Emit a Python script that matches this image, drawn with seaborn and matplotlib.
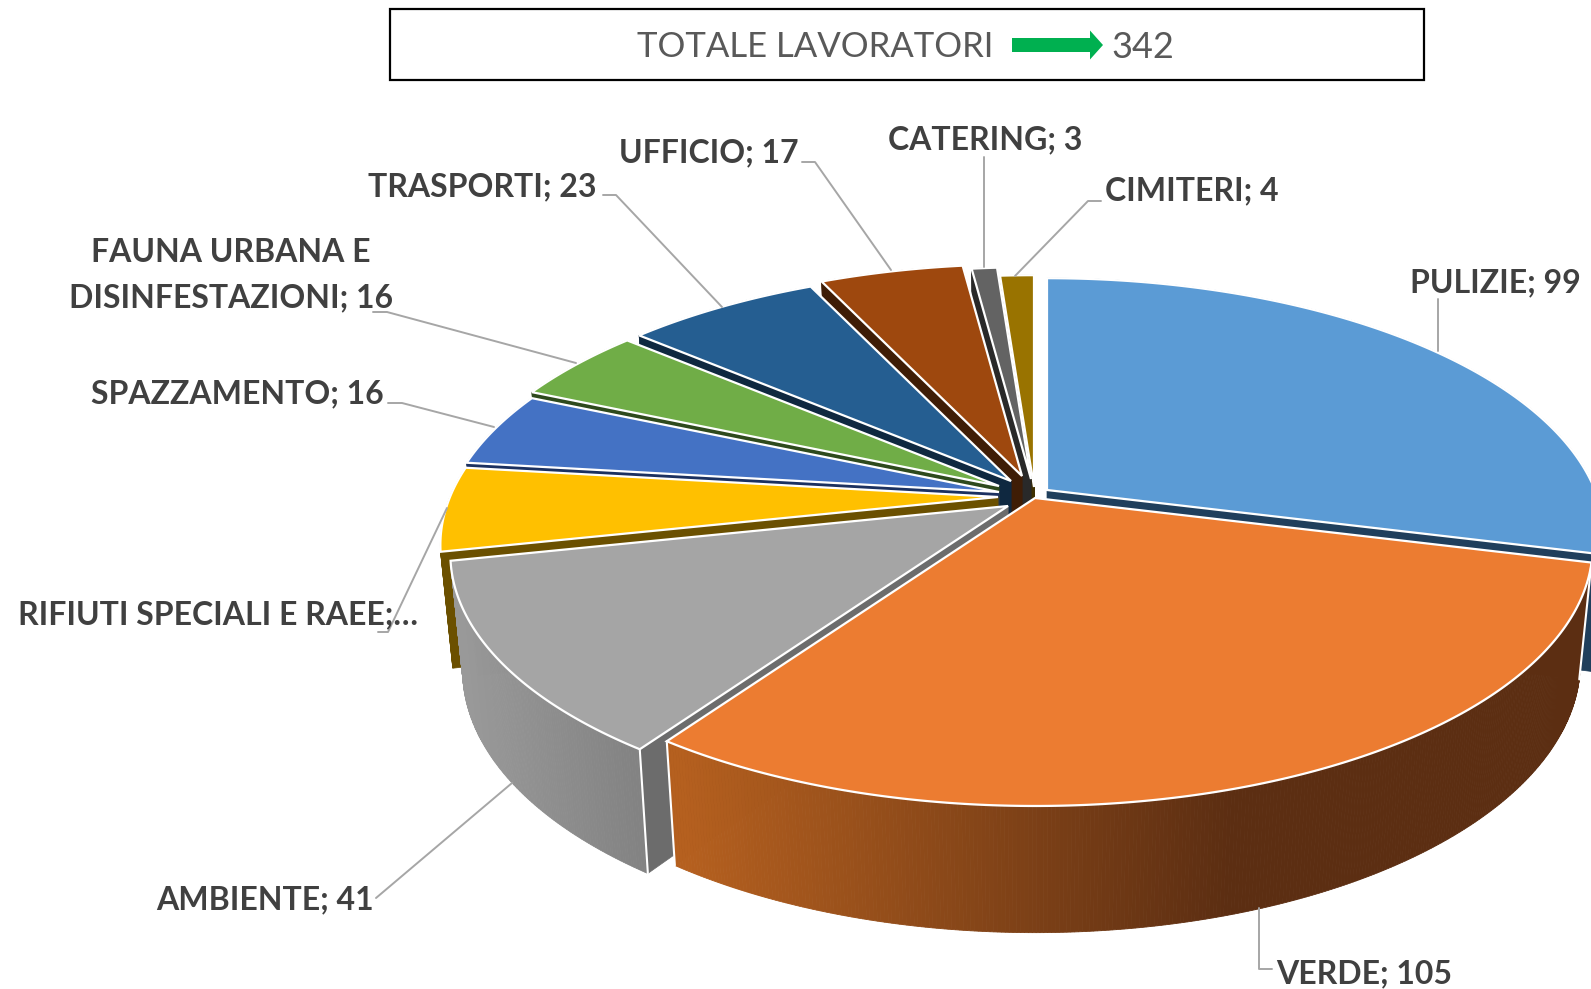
import numpy as np
import seaborn as sns
import matplotlib.pyplot as plt
from matplotlib.colors import to_rgb

categories = ["PULIZIE", "VERDE", "AMBIENTE", "RIFIUTI SPECIALI E RAEE", "SPAZZAMENTO",
              "FAUNA URBANA E DISINFESTAZIONI", "TRASPORTI", "UFFICIO", "CATERING", "CIMITERI"]
values = [99, 105, 41, 18, 16, 16, 23, 17, 3, 4]
totale = 342

top_colors = ["#5B9BD5", "#EC7C31", "#A5A5A5", "#FFC000", "#4472C4",
              "#70AD47", "#255E91", "#9E480E", "#636363", "#997300"]
wall_colors = ["#203F5C", "#5C2E12", "#6C6C6C", "#6B5000", "#1C3160",
               "#2E4A1D", "#0F2840", "#3F1D06", "#292929", "#3F3000"]

# spostamento di ogni fetta (esplosione), in pixel
tip_dx = [25, 13, -14, -24, -23, -23, -11, 0, 9, 12]
tip_dy = [1, 9, 17, 8, 3, -3, -8, -13, -10, -2]
centre = (1022, 489)
rx, ry, persp = 548, 251, 0.185
draw_order = [9, 8, 7, 6, 5, 4, 0, 3, 2, 1]

sns.set_theme(style="white")
plt.rcParams["font.family"] = ["Lato", "DejaVu Sans"]

fig = plt.figure(figsize=(15.91, 9.89), dpi=100)
ax = fig.add_axes([0, 0, 1, 1])
ax.set_xlim(0, 1591)
ax.set_ylim(989, 0)
ax.axis("off")


def rim(tip, ang):
    u, v = np.sin(np.radians(ang)), np.cos(np.radians(ang))
    d = 1 + persp * v
    return tip[0] + rx * u / d, tip[1] - ry * v / d


def rim_low(tip, ang):
    x, y = rim(tip, ang)
    v = np.cos(np.radians(ang))
    return tip[0] + (x - tip[0]) * 0.978, y + 114 / (1 + 0.1 * v)


def mix(c1, c2, t):
    c1, c2 = np.array(to_rgb(c1)), np.array(to_rgb(c2))
    return tuple(c1 + (c2 - c1) * t)


def outer_color(i, x):
    if categories[i] == "VERDE":
        return mix("#B5601F", "#5C2E12", np.clip((x - 680) / 550, 0, 1))
    if categories[i] == "AMBIENTE":
        return mix("#999999", "#828282", np.clip((x - 460) / 180, 0, 1))
    return wall_colors[i]


bounds = np.cumsum([0] + values) / sum(values) * 360

for i in draw_order:
    a0, a1 = bounds[i], bounds[i + 1]
    tip = (centre[0] + tip_dx[i], centre[1] + tip_dy[i])
    low_tip = (tip[0], tip[1] + 114)

    # pareti radiali
    for a in (a0, a1):
        x1, y1 = rim(tip, a)
        x2, y2 = rim_low(tip, a)
        ax.fill([tip[0], x1, x2, low_tip[0]], [tip[1], y1, y2, low_tip[1]],
                color=wall_colors[i], lw=0.5)

    # parete esterna a strisce per il gradiente
    angs = np.linspace(a0, a1, max(int((a1 - a0) * 3), 2))
    for b0, b1 in zip(angs[:-1], angs[1:]):
        x1, y1 = rim(tip, b0)
        x2, y2 = rim(tip, b1)
        x3, y3 = rim_low(tip, b1)
        x4, y4 = rim_low(tip, b0)
        col = outer_color(i, (x1 + x2) / 2)
        ax.fill([x1, x2, x3, x4], [y1, y2, y3, y4], color=col, lw=0.6)

    if categories[i] in ("VERDE", "AMBIENTE"):
        for a in (a0, a1):
            x1, y1 = rim(tip, a)
            x2, y2 = rim_low(tip, a)
            if a == a1 and categories[i] == "VERDE":
                ax.plot([x1, x2], [y1, y2], color="white", lw=1.5)
            if a == a0:
                ax.plot([x1, x2], [y1, y2], color="white", lw=1.5)

    # faccia superiore
    arc = np.linspace(a0, a1, max(int((a1 - a0) * 2), 6))
    px, py = rim(tip, arc)
    ax.fill(np.r_[tip[0], px], np.r_[tip[1], py], facecolor=top_colors[i],
            edgecolor="white", lw=1.6, joinstyle="miter")

# linee guida
leader_color = "#A6A6A6"
leaders = [
    ([1438, 1438], [299, 351]),
    ([1259, 1259, 1272], [908, 969, 969]),
    ([512, 376], [783, 898]),
    ([447, 388, 378], [508, 632, 632]),
    ([388, 402, 494], [403, 403, 427]),
    ([373, 387, 576], [312, 312, 363]),
    ([603, 616, 722], [195, 195, 307]),
    ([802, 815, 891], [162, 162, 270]),
    ([984, 984], [157, 267]),
    ([1101, 1088, 1015], [201, 201, 276]),
]
for xs, ys in leaders:
    ax.plot(xs, ys, color=leader_color, lw=1.4)

# etichette
label_texts = [f"{categories[0]}; {values[0]}", f"{categories[1]}; {values[1]}",
               f"{categories[2]}; {values[2]}", f"{categories[3]};…",
               f"{categories[4]}; {values[4]}", f"FAUNA URBANA E\nDISINFESTAZIONI; {values[5]}",
               f"{categories[6]}; {values[6]}", f"{categories[7]}; {values[7]}",
               f"{categories[8]}; {values[8]}", f"{categories[9]}; {values[9]}"]
label_pos = [(1495, 283), (1364, 974), (265, 900), (218, 615), (237, 394),
             (231, 275), (482, 187), (709, 153), (985, 140), (1192, 191)]
for txt, (x, y) in zip(label_texts, label_pos):
    ax.text(x, y, txt, ha="center", va="center", fontsize=23, fontweight="bold",
            color="#404040", linespacing=1.67)

# riquadro del totale
ax.fill([390, 1424, 1424, 390], [9, 9, 80, 80], facecolor="white", edgecolor="black", lw=1.6)
ax.text(815, 47, "TOTALE LAVORATORI", ha="center", va="center", fontsize=25, color="#595959")
ax.arrow(1012, 45, 91, 0, width=14, head_width=29, head_length=13,
         length_includes_head=True, color="#00B050", lw=0)
ax.text(1143, 47, str(totale), ha="center", va="center", fontsize=26, color="#595959")

fig.savefig("out.png", dpi=100)
